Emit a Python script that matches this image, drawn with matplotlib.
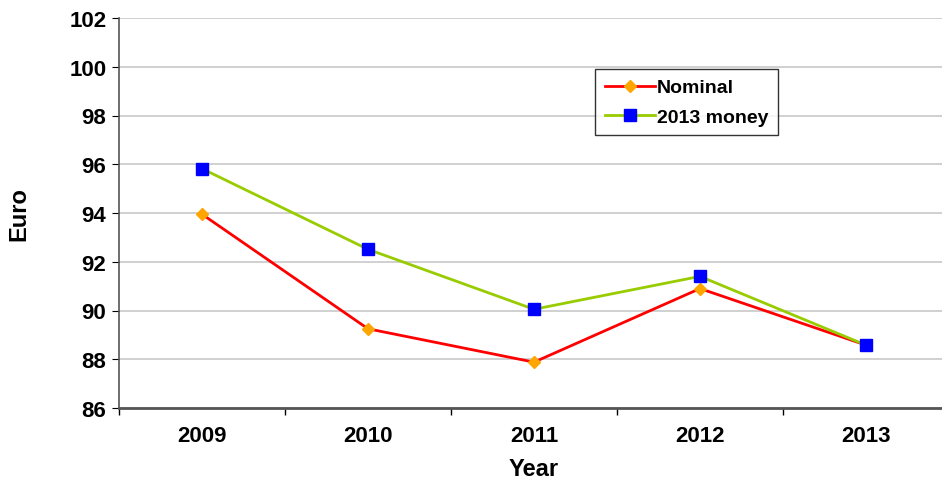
import matplotlib
matplotlib.use("Agg")
import matplotlib.pyplot as plt

years = ["2009", "2010", "2011", "2012", "2013"]
nominal = [93.95, 89.25, 87.88, 90.9, 88.58]
money_2013 = [95.82, 92.51, 90.05, 91.4, 88.58]

plt.rcParams['font.family'] = ['Liberation Sans', 'DejaVu Sans']
plt.rcParams['font.weight'] = 'bold'

fig = plt.figure(figsize=(9.42, 4.85), dpi=100)
ax = fig.add_axes([119 / 942, 76 / 485, 830 / 942, 390 / 485])

x = range(len(years))
ax.plot(x, nominal, color='#FF0000', lw=2, marker='D', ms=6.5,
        mfc='#FFA500', mec='#FFA500', label='Nominal', zorder=3)
ax.plot(x, money_2013, color='#99CC00', lw=2, marker='s', ms=8.5,
        mfc='#0000FF', mec='#0000FF', label='2013 money', zorder=3)

ax.set_xlim(-0.5, 4.5)
ax.set_ylim(86, 102)
ax.set_yticks(range(86, 103, 2))
ax.set_xticks(x)
ax.set_xticklabels(years)
ax.set_xticks([i + 0.5 for i in range(-1, 5)], minor=True)
ax.tick_params(axis='x', which='major', length=0, pad=12, labelsize=16)
ax.tick_params(axis='x', which='minor', length=5, color='black', width=1)
ax.tick_params(axis='y', length=5, labelsize=16, pad=4)
for lab in ax.get_xticklabels() + ax.get_yticklabels():
    lab.set_fontweight('bold')

ax.grid(axis='y', color='#C8C8C8', lw=1.2)
ax.set_axisbelow(True)
for s in ['top', 'right']:
    ax.spines[s].set_visible(False)
ax.spines['left'].set_color('#555555')
ax.spines['bottom'].set_color('#555555')
ax.spines['left'].set_linewidth(1.2)
ax.spines['bottom'].set_linewidth(2)

ax.set_xlabel('Year', fontsize=17, fontweight='bold', labelpad=8)
ax.set_ylabel('Euro', fontsize=17, fontweight='bold', labelpad=28)

leg = ax.legend(loc='upper left', bbox_to_anchor=(476 / 830, (409 - 70) / 390),
                frameon=True, fancybox=False, edgecolor='black', fontsize=14,
                handlelength=2.6, borderpad=0.5, labelspacing=0.6, handletextpad=0.1,
                borderaxespad=0)
leg.get_frame().set_linewidth(1)
for t in leg.get_texts():
    t.set_fontweight('bold')

fig.savefig('out.png', dpi=100)
